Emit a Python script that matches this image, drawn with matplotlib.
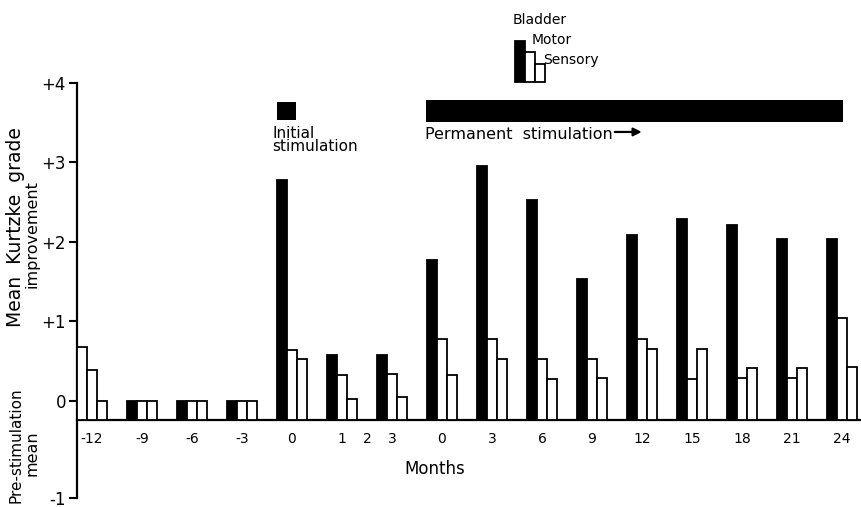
#!/usr/bin/env python3
"""Mean Kurtzke grade improvement before and after spinal cord stimulation."""

import matplotlib

matplotlib.use("Agg")
import matplotlib.pyplot as plt
import numpy as np

# month labels for each bar group (pre-stimulation, initial, permanent)
MONTHS = ["-12", "-9", "-6", "-3", "0", "1", "3", "0", "3", "6", "9", "12", "15", "18", "21", "24"]
BLADDER = [0.68, 0.0, 0.0, 0.0, 2.78, 0.57, 0.57, 1.77, 2.95, 2.53, 1.53, 2.08, 2.28, 2.21, 2.03, 2.03]
MOTOR = [0.38, 0.0, 0.0, 0.0, 0.64, 0.32, 0.33, 0.77, 0.77, 0.52, 0.52, 0.78, 0.27, 0.29, 0.29, 1.04]
SENSORY = [0.0, 0.0, 0.0, 0.0, 0.52, 0.02, 0.04, 0.32, 0.52, 0.27, 0.28, 0.65, 0.65, 0.41, 0.41, 0.42]
Y_TICKS = [-1.22, 0, 1, 2, 3, 4]
Y_LABELS = ["-1", "0", "+1", "+2", "+3", "+4"]

BASE = -0.24  # bars stand on the axis line, below the zero tick
W = 0.2
LW = 1.3

plt.rcParams["font.family"] = ["DejaVu Sans"]

fig = plt.figure(figsize=(8.61, 5.07), dpi=100)
ax = fig.add_axes([77 / 861, 7 / 507, 784 / 861, 500 / 507])

x = np.arange(len(MONTHS))
bladder_faces = ["white"] + ["black"] * (len(MONTHS) - 1)  # faded print at -12
for vals, off, faces in [
    (BLADDER, 0.1, bladder_faces),
    (MOTOR, 0.3, ["white"] * len(MONTHS)),
    (SENSORY, 0.5, ["white"] * len(MONTHS)),
]:
    ax.bar(x + off, np.array(vals) - BASE, bottom=BASE, width=W,
           color=faces, edgecolor="black", linewidth=LW, zorder=3)

ax.set_xlim(0, 15.68)
ax.set_ylim(-1.25, 5.04)

# x ticks at group centres, plus the lone "2" between months 1 and 3
xt = list(x + 0.3) + [5.8]
xl = MONTHS + ["2"]
ax.set_xticks(xt)
ax.set_xticklabels(xl, fontsize=12)
ax.tick_params(axis="x", length=0, pad=9)

ax.set_yticks(Y_TICKS)
ax.set_yticklabels(Y_LABELS, fontsize=12)
ax.tick_params(axis="y", length=6, width=1.5, pad=2)

for s in ["top", "right"]:
    ax.spines[s].set_visible(False)
ax.spines["left"].set_bounds(-1.22, 4)
ax.spines["left"].set_linewidth(1.6)
ax.spines["bottom"].set_position(("data", BASE))
ax.spines["bottom"].set_linewidth(1.6)

ax.text(7.16, -0.855, "Months", fontsize=12, ha="center", va="center")

# stimulation periods
ax.bar(4.0, 0.23, bottom=3.53, width=0.38, align="edge", color="black", zorder=3)
ax.bar(6.98, 0.27, bottom=3.51, width=8.34, align="edge", color="black", zorder=3)
ax.text(3.9, 3.46, "Initial\nstimulation", fontsize=11, ha="left", va="top", linespacing=0.85)
ax.text(6.96, 3.35, "Permanent  stimulation", fontsize=11.5, ha="left", va="center")
ax.annotate("", xy=(11.35, 3.38), xytext=(10.7, 3.38),
            arrowprops=dict(arrowstyle="-|>", color="black", lw=1.6, mutation_scale=12))

# hand-drawn style key
ax.bar([8.76, 8.96, 9.16], [0.51, 0.38, 0.22], bottom=4.01, width=W, align="edge",
       color=["black", "white", "white"], edgecolor="black", linewidth=LW, clip_on=False)
ax.text(8.72, 4.79, "Bladder", fontsize=10, ha="left", va="center")
ax.text(9.1, 4.54, "Motor", fontsize=10, ha="left", va="center")
ax.text(9.32, 4.29, "Sensory", fontsize=10, ha="left", va="center")

# axis titles, two stacked lines each
fig.text(16 / 861, 1 - 127 / 507, "Mean  Kurtzke  grade", rotation=90, fontsize=13.5,
         ha="center", va="top")
fig.text(32 / 861, 1 - 180 / 507, "improvement", rotation=90, fontsize=11.5,
         ha="center", va="top")
fig.text(16 / 861, 1 - 387 / 507, "Pre-stimulation", rotation=90, fontsize=11,
         ha="center", va="top")
fig.text(32 / 861, 1 - 430 / 507, "mean", rotation=90, fontsize=11.5,
         ha="center", va="top")

fig.savefig("out.png", dpi=100)
